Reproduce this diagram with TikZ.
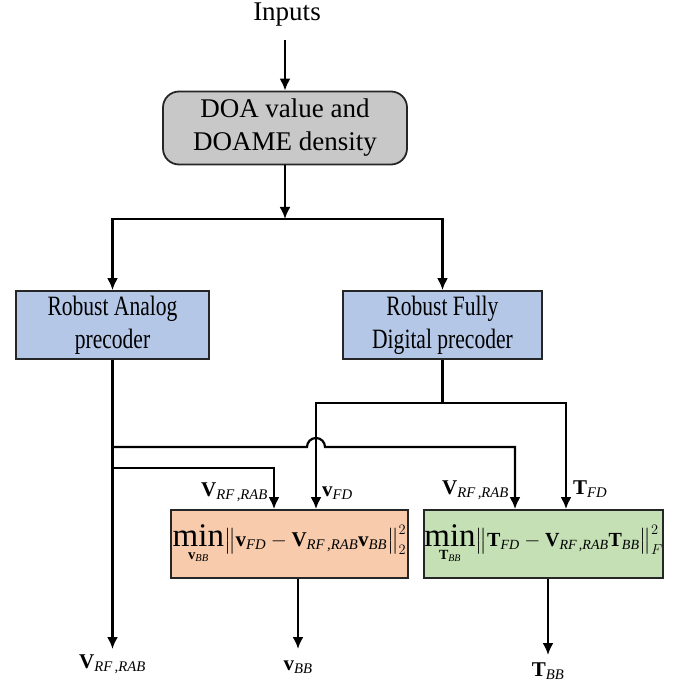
\documentclass[tikz,border=0pt]{standalone}
\usepackage{amsmath}
\usepackage{fontspec}
\setmainfont{Liberation Serif}
\usetikzlibrary{arrows.meta,positioning}

\definecolor{doagray}{HTML}{C8C8C8}
\definecolor{preblue}{HTML}{B4C7E7}
\definecolor{optorange}{HTML}{F8CBAD}
\definecolor{optgreen}{HTML}{C5E0B4}
\definecolor{boxline}{HTML}{262626}

\newcommand{\bfv}{\textbf{v}}
\newcommand{\bfV}{\textbf{V}}
\newcommand{\bfT}{\textbf{T}}
\newcommand{\rfrab}{\textit{RF\,,RAB}}
\newcommand{\bigmin}{\text{\fontsize{33}{33}\selectfont min}}

\begin{document}
\begin{tikzpicture}[x=1pt,y=-1pt,>={Latex[length=12pt,width=11pt]},
line width=2.2pt,
every node/.style={inner sep=0pt},
blockbox/.style={draw=boxline,line width=1.8pt,minimum height=68pt,align=center,
  font=\fontsize{27}{33}\selectfont},
prebox/.style={blockbox,fill=preblue,font=\fontsize{28}{33}\selectfont\addfontfeature{FakeStretch=0.77}},
optbox/.style={blockbox,minimum width=237pt,font=\fontsize{21}{26}\selectfont},
sig/.style={font=\fontsize{21}{24}\selectfont}]

\useasboundingbox (0,0) rectangle (677,684);

% blocks
\node (in) at (287,15) {\fontsize{27}{30}\selectfont Inputs};
\node[blockbox,fill=doagray,rounded corners=16pt,minimum width=244pt,minimum height=73pt]
  (doa) at (285,128) {DOA value and\\DOAME density};
\node[prebox,minimum width=193pt] (ana) at (112.5,325) {Robust Analog\\precoder};
\node[prebox,minimum width=199pt] (dig) at (442.5,325) {Robust Fully\\Digital precoder};
\node[optbox,fill=optorange] (lsv) at (289.5,544)
  {$\mathop{\bigmin}\limits_{\bfv_{\textit{BB}}}\bigl\|\bfv_{\textit{FD}}-\bfV_{\rfrab}\bfv_{\textit{BB}}\bigr\|_2^2$};
\node[optbox,fill=optgreen,font=\fontsize{20}{25}\selectfont] (lst) at (543.5,544)
  {$\mathop{\bigmin}\limits_{\bfT_{\textit{BB}}}\bigl\|\bfT_{\textit{FD}}-\bfV_{\rfrab}\bfT_{\textit{BB}}\bigr\|_F^2$};

% junction points
\coordinate (split) at (285,219);
\coordinate (anafork) at (112.5,447);
\coordinate (digfork) at (442.5,403);
\coordinate (hop) at (316,447);

% outputs
\node[sig,anchor=base] (outrf) at (112.5,668) {$\bfV_{\rfrab}$};
\node[sig,anchor=base] (outv) at (298,670) {$\bfv_{\textit{BB}}$};
\node[sig,anchor=base] (outt) at (548,676) {$\bfT_{\textit{BB}}$};

% input labels of the two optimisation blocks
\node[sig,anchor=base east] (inrf1) at (269,496) {$\bfV_{\rfrab}$};
\node[sig,anchor=base west] (inv) at (321,496) {$\bfv_{\textit{FD}}$};
\node[sig,anchor=base east] (inrf2) at (510,494) {$\bfV_{\rfrab}$};
\node[sig,anchor=base west] (int) at (572,494) {$\bfT_{\textit{FD}}$};

\draw[->] (doa.north |- 0,40) -- (doa.north);
\draw[->] (doa.south) -- (split);
\draw[->] (split) -| (ana.north);
\draw[->] (split) -| (dig.north);

\draw[->] (ana.south) -- (outrf.north |- 0,649);
\draw[->] (anafork) -- ([xshift=-9pt]hop)
  arc[start angle=180,end angle=0,radius=9pt] -| ([xshift=-28.5pt]lst.north);
\draw[->] (ana.south |- 0,468) -| ([xshift=-15.5pt]lsv.north);
\draw (dig.south) -- (digfork);
\draw[->] (digfork) -| ([xshift=26.5pt]lsv.north);
\draw[->] (digfork) -| ([xshift=22.5pt]lst.north);

\draw[->] (outv.north |- lsv.south) -- (outv.north |- 0,649);
\draw[->] (outt.north |- lst.south) -- (outt.north |- 0,655);
\end{tikzpicture}
\end{document}
